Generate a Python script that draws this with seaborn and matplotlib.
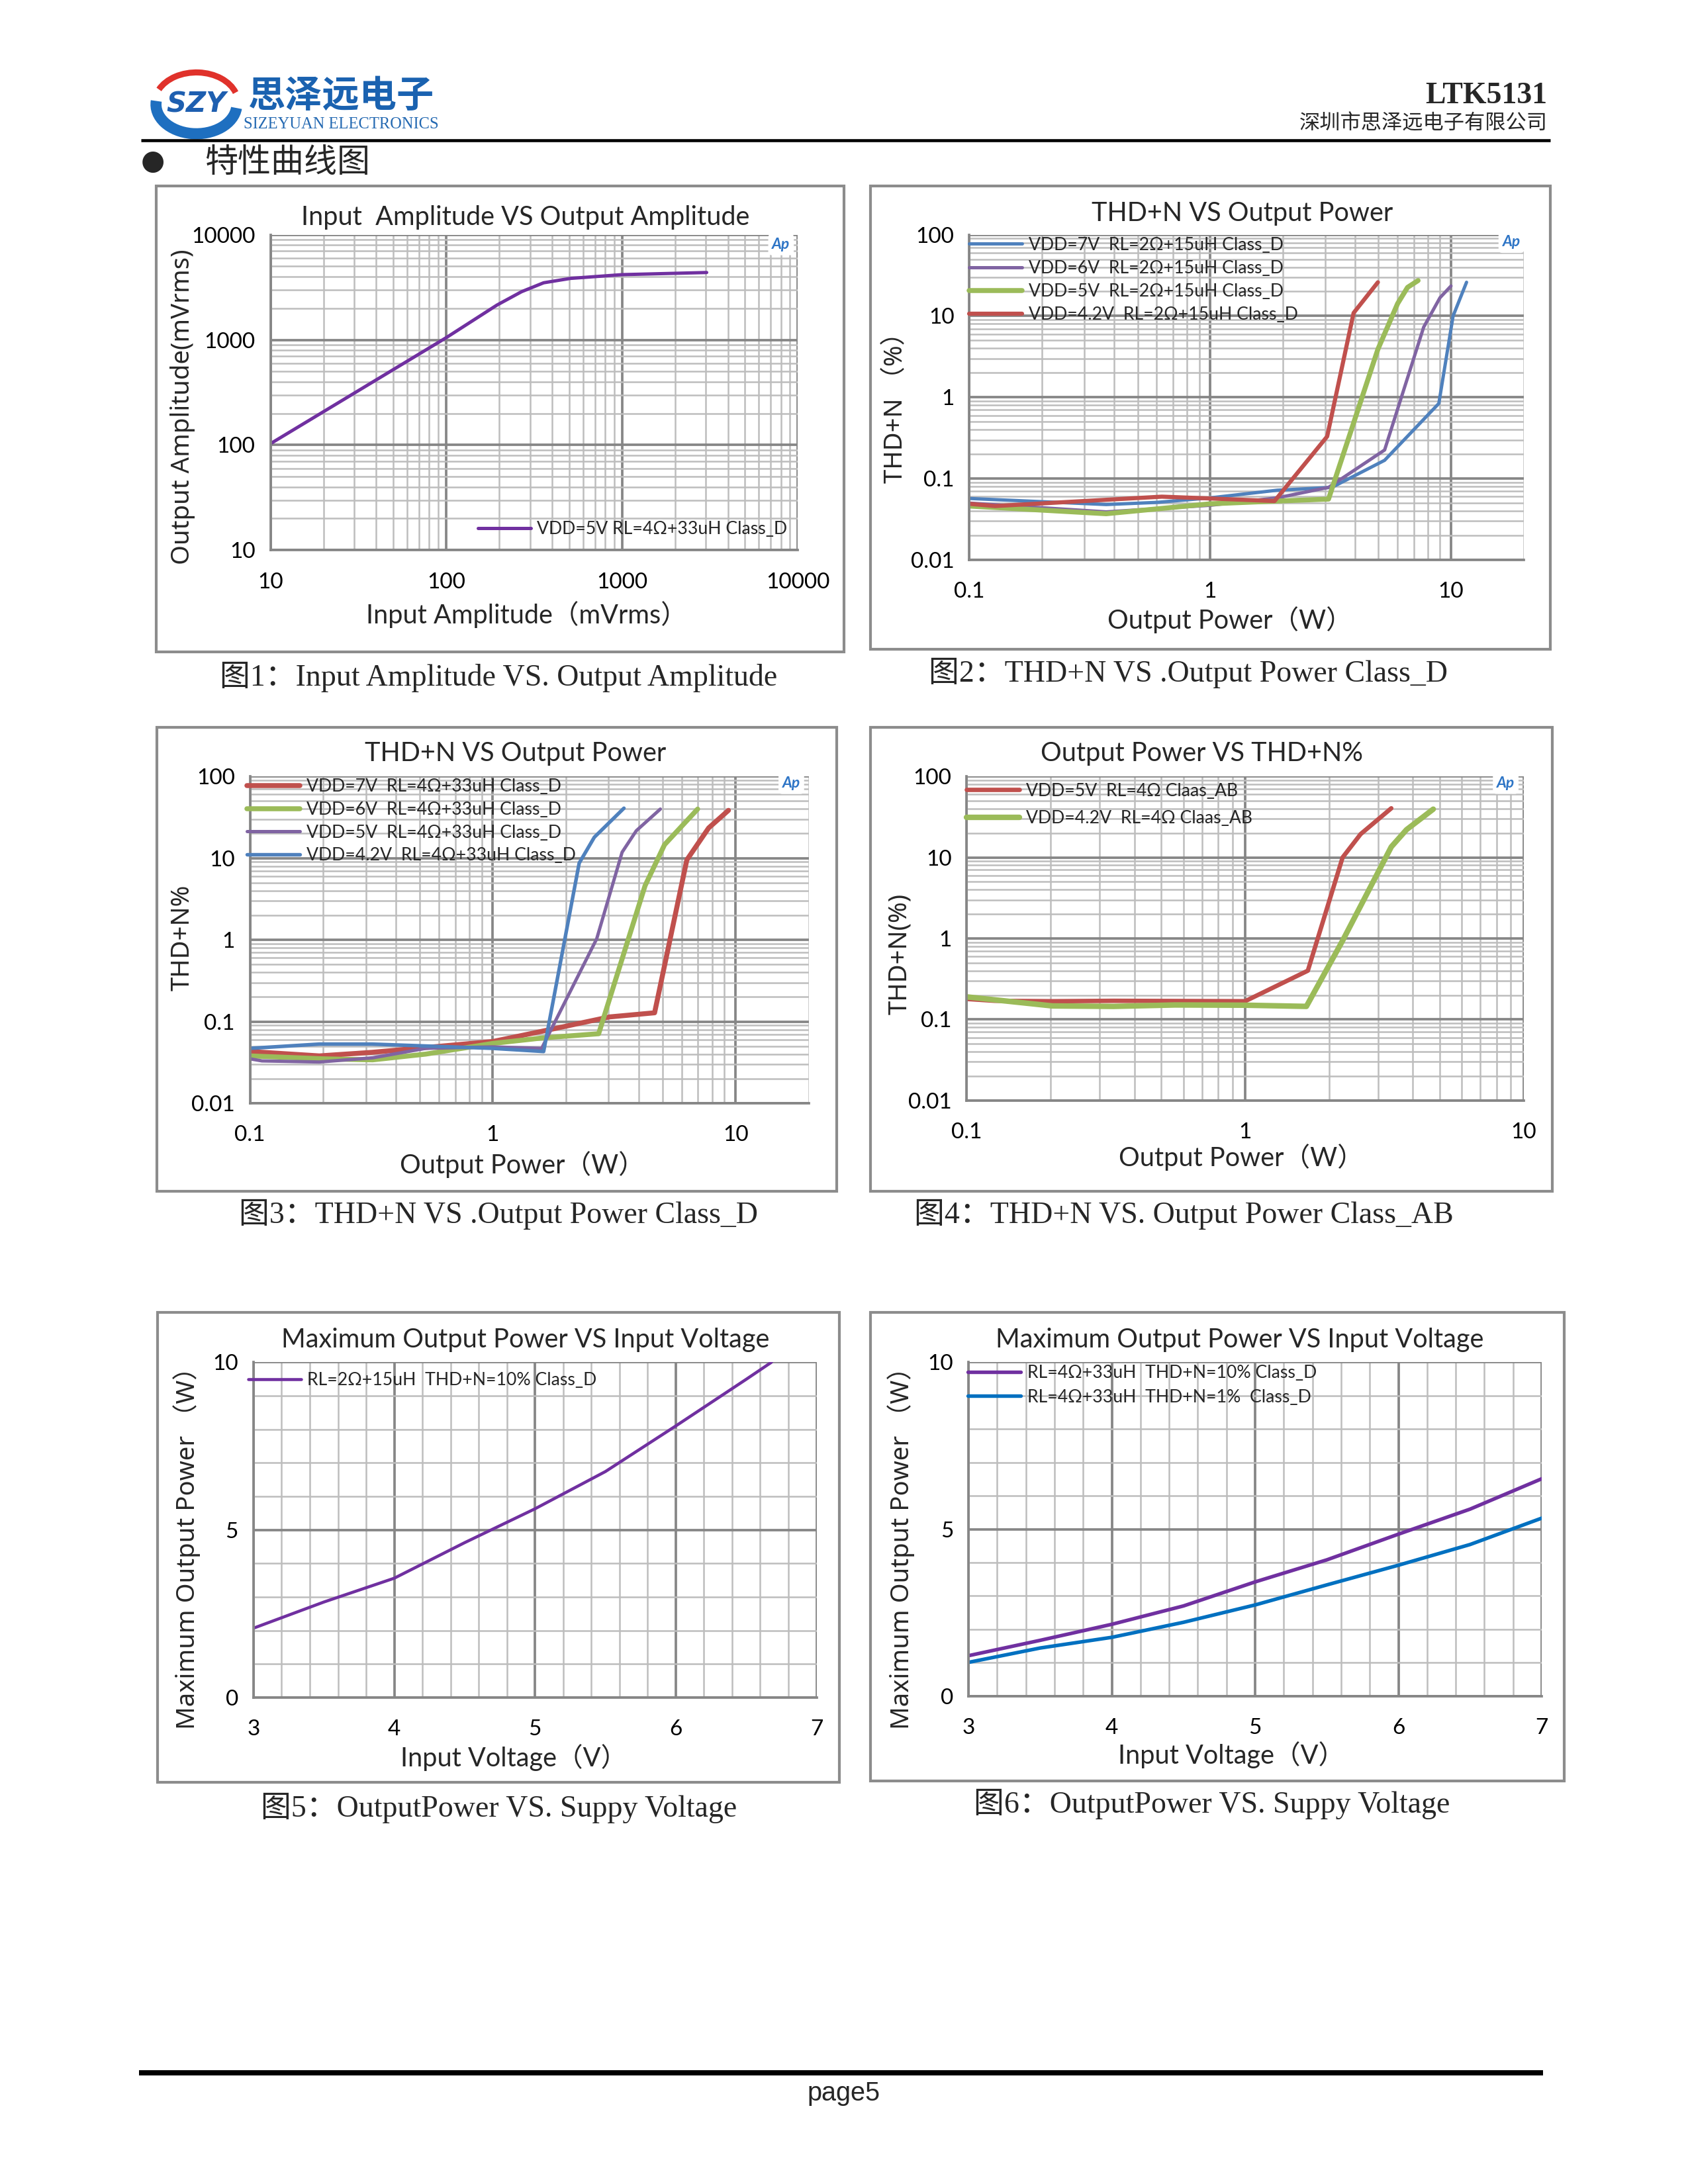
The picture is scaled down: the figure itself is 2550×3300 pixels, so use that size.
import numpy as np
import pandas as pd
import matplotlib
matplotlib.use("Agg")
import matplotlib.pyplot as plt
import seaborn as sns
from matplotlib.patches import Rectangle, Arc
from matplotlib.ticker import LogLocator, MultipleLocator, NullFormatter, FuncFormatter, FixedLocator

# ---------------- data ----------------
# Fig 1: Input amplitude vs output amplitude (mVrms)
c1_in = [10, 100, 194, 268, 358, 508, 1000, 3027]
c1_out = [103, 1050, 2140, 2870, 3490, 3840, 4170, 4370]
c1_label = "VDD=5V RL=4Ω+33uH Class_D"

# Fig 2: THD+N vs output power, RL=2Ω+15uH
c2_labels = ["VDD=7V  RL=2Ω+15uH Class_D", "VDD=6V  RL=2Ω+15uH Class_D",
             "VDD=5V  RL=2Ω+15uH Class_D", "VDD=4.2V  RL=2Ω+15uH Class_D"]
c2_p7 = [0.1, 0.37, 0.6, 1.0, 1.9, 3.2, 5.3, 8.9, 10.2, 11.6]
c2_t7 = [0.057, 0.048, 0.051, 0.058, 0.072, 0.078, 0.168, 0.84, 10, 26]
c2_p6 = [0.1, 0.37, 1.0, 1.9, 3.1, 5.3, 7.7, 9.0, 10.0]
c2_t6 = [0.05, 0.039, 0.047, 0.058, 0.078, 0.225, 7.3, 16.8, 23.4]
c2_p5 = [0.1, 0.37, 1.0, 1.9, 3.1, 4.97, 6.0, 6.6, 7.3]
c2_t5 = [0.046, 0.037, 0.049, 0.053, 0.056, 3.9, 14.2, 22.5, 27.3]
c2_p42 = [0.1, 0.128, 0.63, 1.0, 1.85, 3.06, 3.94, 4.97]
c2_t42 = [0.049, 0.046, 0.06, 0.057, 0.053, 0.33, 10.9, 26]

# Fig 3: THD+N vs output power, RL=4Ω+33uH
c3_labels = ["VDD=7V  RL=4Ω+33uH Class_D", "VDD=6V  RL=4Ω+33uH Class_D",
             "VDD=5V  RL=4Ω+33uH Class_D", "VDD=4.2V  RL=4Ω+33uH Class_D"]
c3_p7 = [0.1, 0.193, 0.318, 1.0, 1.56, 3.03, 4.64, 6.3, 7.75, 9.35]
c3_t7 = [0.043, 0.038, 0.042, 0.057, 0.075, 0.114, 0.128, 9.5, 23.4, 38.4]
c3_p6 = [0.1, 0.2, 0.32, 0.53, 1.0, 1.6, 2.73, 4.24, 5.1, 6.98]
c3_t6 = [0.038, 0.035, 0.034, 0.040, 0.054, 0.063, 0.071, 4.6, 14.6, 39.8]
c3_p5 = [0.1, 0.112, 0.193, 0.32, 0.53, 1.0, 1.59, 2.68, 3.41, 3.9, 4.9]
c3_t5 = [0.035, 0.033, 0.032, 0.036, 0.047, 0.049, 0.047, 1.03, 11.8, 21.6, 39.8]
c3_p42 = [0.1, 0.193, 0.318, 1.0, 1.62, 2.27, 2.62, 3.47]
c3_t42 = [0.047, 0.053, 0.053, 0.047, 0.043, 8.7, 18, 40.8]

# Fig 4: THD+N vs output power, Class AB
c4_labels = ["VDD=5V  RL=4Ω Claas_AB", "VDD=4.2V  RL=4Ω Claas_AB"]
c4_p5 = [0.1, 0.126, 0.203, 0.337, 1.0, 1.68, 2.24, 2.6, 3.35]
c4_t5 = [0.179, 0.17, 0.168, 0.17, 0.168, 0.40, 10, 19.4, 40.4]
c4_p42 = [0.1, 0.203, 0.337, 0.56, 1.0, 1.66, 2.24, 3.35, 3.8, 4.74]
c4_t42 = [0.19, 0.147, 0.145, 0.151, 0.15, 0.145, 0.94, 13.5, 22, 39.4]

# Fig 5: max output power vs input voltage
c5_label = "RL=2Ω+15uH  THD+N=10% Class_D"
c5_v = [3, 3.5, 4, 4.5, 5, 5.5, 6, 6.5, 6.68]
c5_p = [2.07, 2.85, 3.56, 4.62, 5.63, 6.74, 8.10, 9.49, 10.0]

# Fig 6: max output power vs input voltage (4Ω)
c6_labels = ["RL=4Ω+33uH  THD+N=10% Class_D", "RL=4Ω+33uH  THD+N=1%  Class_D"]
c6_v = [3, 3.5, 4, 4.5, 5, 5.5, 6, 6.5, 7]
c6_p10 = [1.21, 1.67, 2.15, 2.70, 3.42, 4.08, 4.85, 5.60, 6.51]
c6_p1 = [1.01, 1.44, 1.76, 2.21, 2.73, 3.33, 3.92, 4.54, 5.33]

captions = ["图1：Input Amplitude VS. Output Amplitude",
            "图2：THD+N VS .Output Power Class_D",
            "图3：THD+N VS .Output Power Class_D",
            "图4：THD+N VS. Output Power Class_AB",
            "图5：OutputPower VS. Suppy Voltage",
            "图6：OutputPower VS. Suppy Voltage"]

# ---------------- style ----------------
sns.set_theme(style="white")
LAT = ["Lato", "Noto Sans CJK SC", "DejaVu Sans"]
YF = ["Noto Sans", "Noto Sans CJK SC", "DejaVu Sans"]
SERIF = ["Liberation Serif", "Noto Sans CJK SC"]
CJK = ["Noto Sans CJK SC", "DejaVu Sans"]
plt.rcParams["font.family"] = LAT

BLUE, PURPLE, GREEN, RED = "#4F81BD", "#8064A2", "#9BBB59", "#C0504D"
DPURPLE, DBLUE = "#7030A0", "#0070C0"
GMAJ, GMIN, AXC, BOXC = "#868686", "#BDBDBD", "#868686", "#8C8C8C"

TITLE_FS, TICK_FS, XL_FS, YL_FS, LEG_FS, CAP_FS = 9.5, 8.0, 9.5, 9.2, 6.4, 11

W, H = 1212.0, 1568.0
fig = plt.figure(figsize=(8.5, 11), dpi=300)
page = fig.add_axes([0, 0, 1, 1], zorder=0)
page.set_xlim(0, W)
page.set_ylim(H, 0)
page.axis("off")


def frac_rect(x0, x1, y0, y1):
    return [x0 / W, 1 - y1 / H, (x1 - x0) / W, (y1 - y0) / H]


# ---------------- header ----------------
page.add_patch(Arc((141, 74), 60, 44, theta1=200, theta2=345, color="#E0322B", lw=2.2))
page.add_patch(Arc((141, 75), 58, 42, theta1=5, theta2=185, color="#1E6FC0", lw=4.0))
page.text(141, 75, "SZY", fontsize=10, fontweight="bold", style="italic", color="#1E5FB0",
          ha="center", va="center", family=["DejaVu Sans"])
page.text(178, 69, "思泽远电子", fontsize=13.5, fontweight="bold", color="#1A62B0",
          ha="left", va="center", family=CJK)
page.text(175, 89.5, "SIZEYUAN ELECTRONICS", fontsize=5.9, color="#2469B2",
          ha="left", va="center", family=["Liberation Serif"])
page.text(1111, 69, "LTK5131", fontsize=11, fontweight="bold", ha="right", va="center",
          family=["Liberation Serif"])
page.text(1111, 88.5, "深圳市思泽远电子有限公司", fontsize=7.5, ha="right", va="center", family=CJK)
page.plot([101, 1113], [100.8, 100.8], color="black", lw=1.1, solid_capstyle="butt")
page.text(110, 116, "●", fontsize=10, ha="center", va="center", family=["DejaVu Sans"])
page.text(147, 117, "特性曲线图", fontsize=12, ha="left", va="center", family=CJK)

# ---------------- footer ----------------
page.plot([100, 1108], [1488, 1488], color="black", lw=1.9, solid_capstyle="butt")
page.text(606, 1503, "page5", fontsize=9.5, ha="center", va="center", family=["Liberation Sans"])


# ---------------- panel helper ----------------
def make_panel(box, area, title, title_pos, xlabel, xlabel_pos, ylabel, ylabel_pos,
               caption, caption_pos):
    bx0, bx1, by0, by1 = box
    page.add_patch(Rectangle((bx0, by0), bx1 - bx0, by1 - by0, fill=False, ec=BOXC, lw=1.0))
    page.text(caption_pos[0], caption_pos[1], caption, ha="center", va="center",
              fontsize=CAP_FS, family=SERIF)
    ax = fig.add_axes(frac_rect(*area), zorder=2)
    x0, x1, y0, y1 = area
    fx = lambda px: (px - x0) / (x1 - x0)
    fy = lambda py: (y1 - py) / (y1 - y0)
    ax.text(fx(title_pos[0]), fy(title_pos[1]), title, transform=ax.transAxes,
            ha="center", va="center", fontsize=TITLE_FS, family=LAT)
    ax.set_xlabel(xlabel, fontsize=XL_FS, family=LAT, va="center", ha="center")
    ax.xaxis.set_label_coords(fx(xlabel_pos[0]), fy(xlabel_pos[1]))
    ax.set_ylabel(ylabel, fontsize=YL_FS, family=YF, va="center", ha="center", rotation=90)
    ax.yaxis.set_label_coords(fx(ylabel_pos[0]), fy(ylabel_pos[1]))
    ax.set_facecolor("white")
    for s in ["top", "right"]:
        ax.spines[s].set_visible(False)
    for s in ["left", "bottom"]:
        ax.spines[s].set_color(AXC)
        ax.spines[s].set_linewidth(0.9)
    ax.tick_params(which="major", direction="out", length=3, width=0.8, color=AXC,
                   labelsize=TICK_FS, labelcolor="black")
    ax.tick_params(axis="y", which="major", pad=2.5)
    ax.tick_params(axis="x", which="major", pad=5)
    ax.tick_params(which="minor", length=0)
    ax.set_axisbelow(True)
    return ax, fx, fy


def fmt(v, _):
    return f"{v:g}"


def log_axis(axis):
    axis.set_major_locator(LogLocator(base=10, numticks=20))
    axis.set_minor_locator(LogLocator(base=10, subs=np.arange(2, 10), numticks=200))
    axis.set_minor_formatter(NullFormatter())
    axis.set_major_formatter(FuncFormatter(fmt))


def grids(ax):
    ax.grid(True, which="major", color=GMAJ, lw=0.9)
    ax.grid(True, which="minor", color=GMIN, lw=0.6)


def ap_mark(ax, x, y):
    ax.text(x, y, "Ap", transform=ax.transAxes, fontsize=5.5, color="#2E75C6",
            fontweight="bold", style="italic", ha="center", va="center", zorder=5,
            bbox=dict(boxstyle="round,pad=0.25", fc="white", ec="none"))


def series(ax, x, y, color, lw, label):
    df = pd.DataFrame({"x": x, "y": y})
    sns.lineplot(data=df, x="x", y="y", ax=ax, color=color, lw=lw, label=label,
                 sort=False, estimator=None, solid_joinstyle="round")


def legend(ax, fx0, fy0, spacing=0.38, hl=3.0):
    h, l = ax.get_legend_handles_labels()
    ax.legend(h, l, loc="upper left", bbox_to_anchor=(fx0, fy0), frameon=False,
              handlelength=hl, handletextpad=0.35, labelspacing=spacing,
              borderpad=0, borderaxespad=0, prop={"family": LAT, "size": LEG_FS})


# ---------------- Fig 1 ----------------
area1 = (194.2, 572.9, 168.5, 395.0)
ax, fx, fy = make_panel((112, 606, 133.5, 468), area1,
                        "Input  Amplitude VS Output Amplitude", (377, 156),
                        "Input Amplitude（mVrms）", (378, 441),
                        "Output Amplitude(mVrms)", (131, 292),
                        captions[0], (358, 486))
series(ax, c1_in, c1_out, DPURPLE, 1.2, c1_label)
ax.set_xscale("log"); ax.set_yscale("log")
ax.set_xlim(10, 10000); ax.set_ylim(10, 10000)
log_axis(ax.xaxis); log_axis(ax.yaxis); grids(ax)
legend(ax, fx(343), fy(374))
ap_mark(ax, 0.968, 0.969)

# ---------------- Fig 2 ----------------
area2 = (696.0, 1093.9, 168.5, 402.0)
ax, fx, fy = make_panel((625, 1113, 133.5, 466), area2,
                        "THD+N VS Output Power", (892, 153),
                        "Output Power（W）", (883, 445),
                        "THD+N （%）", (643, 288),
                        captions[1], (853, 483))
series(ax, c2_p7, c2_t7, BLUE, 1.2, c2_labels[0])
series(ax, c2_p6, c2_t6, PURPLE, 1.2, c2_labels[1])
series(ax, c2_p5, c2_t5, GREEN, 1.8, c2_labels[2])
series(ax, c2_p42, c2_t42, RED, 1.5, c2_labels[3])
ax.set_xscale("log"); ax.set_yscale("log")
ax.set_xlim(0.1, 20); ax.set_ylim(0.01, 100)
log_axis(ax.xaxis); log_axis(ax.yaxis); grids(ax)
legend(ax, 0.0, fy(170))
ap_mark(ax, 0.978, 0.977)

# ---------------- Fig 3 ----------------
area3 = (179.5, 580.6, 557.4, 792.1)
ax, fx, fy = make_panel((112.5, 601, 522, 855.4), area3,
                        "THD+N VS Output Power", (370, 541),
                        "Output Power（W）", (375, 836),
                        "THD+N%", (131, 673),
                        captions[2], (358, 872))
series(ax, c3_p7, c3_t7, RED, 1.8, c3_labels[0])
series(ax, c3_p6, c3_t6, GREEN, 1.8, c3_labels[1])
series(ax, c3_p5, c3_t5, PURPLE, 1.2, c3_labels[2])
series(ax, c3_p42, c3_t42, BLUE, 1.3, c3_labels[3])
ax.set_xscale("log"); ax.set_yscale("log")
ax.set_xlim(0.1, 20); ax.set_ylim(0.01, 100)
log_axis(ax.xaxis); log_axis(ax.yaxis); grids(ax)
legend(ax, -0.005, fy(559), spacing=0.36)
ap_mark(ax, 0.969, 0.979)

# ---------------- Fig 4 ----------------
area4 = (694.1, 1093.9, 557.4, 790.1)
ax, fx, fy = make_panel((625, 1114.4, 522, 855.4), area4,
                        "Output Power VS THD+N%", (863, 541),
                        "Output Power（W）", (891, 831),
                        "THD+N(%)", (646, 685),
                        captions[3], (850, 872))
series(ax, c4_p5, c4_t5, RED, 1.6, c4_labels[0])
series(ax, c4_p42, c4_t42, GREEN, 2.0, c4_labels[1])
ax.set_xscale("log"); ax.set_yscale("log")
ax.set_xlim(0.1, 10); ax.set_ylim(0.01, 100)
log_axis(ax.xaxis); log_axis(ax.yaxis); grids(ax)
legend(ax, 0.0, fy(562), spacing=0.62)
ap_mark(ax, 0.968, 0.979)

# ---------------- Fig 5 ----------------
area5 = (182.0, 586.3, 978.0, 1218.8)
ax, fx, fy = make_panel((113, 602.7, 942, 1279.7), area5,
                        "Maximum Output Power VS Input Voltage", (377, 962),
                        "Input Voltage（V）", (369, 1262),
                        "Maximum Output Power （W）", (134, 1107),
                        captions[4], (358, 1298))
series(ax, c5_v, c5_p, DPURPLE, 1.1, c5_label)
ax.set_xlim(3, 7); ax.set_ylim(0, 10)
ax.xaxis.set_major_locator(FixedLocator([3, 4, 5, 6, 7]))
ax.xaxis.set_minor_locator(MultipleLocator(0.2))
ax.yaxis.set_major_locator(FixedLocator([0, 5, 10]))
ax.yaxis.set_minor_locator(MultipleLocator(1))
ax.xaxis.set_major_formatter(FuncFormatter(fmt)); ax.yaxis.set_major_formatter(FuncFormatter(fmt))
grids(ax)
legend(ax, fx(178), fy(985))

# ---------------- Fig 6 ----------------
area6 = (695.4, 1107.0, 978.0, 1217.7)
ax, fx, fy = make_panel((625, 1123, 942, 1278.8), area6,
                        "Maximum Output Power VS Input Voltage", (890, 962),
                        "Input Voltage（V）", (884, 1260),
                        "Maximum Output Power （W）", (647, 1107),
                        captions[5], (870, 1295))
series(ax, c6_v, c6_p10, DPURPLE, 1.3, c6_labels[0])
series(ax, c6_v, c6_p1, DBLUE, 1.3, c6_labels[1])
ax.set_xlim(3, 7); ax.set_ylim(0, 10)
ax.xaxis.set_major_locator(FixedLocator([3, 4, 5, 6, 7]))
ax.xaxis.set_minor_locator(MultipleLocator(0.2))
ax.yaxis.set_major_locator(FixedLocator([0, 5, 10]))
ax.yaxis.set_minor_locator(MultipleLocator(1))
ax.xaxis.set_major_formatter(FuncFormatter(fmt)); ax.yaxis.set_major_formatter(FuncFormatter(fmt))
grids(ax)
legend(ax, fx(695), fy(980), spacing=0.42)

fig.savefig("out.png", dpi=300)
